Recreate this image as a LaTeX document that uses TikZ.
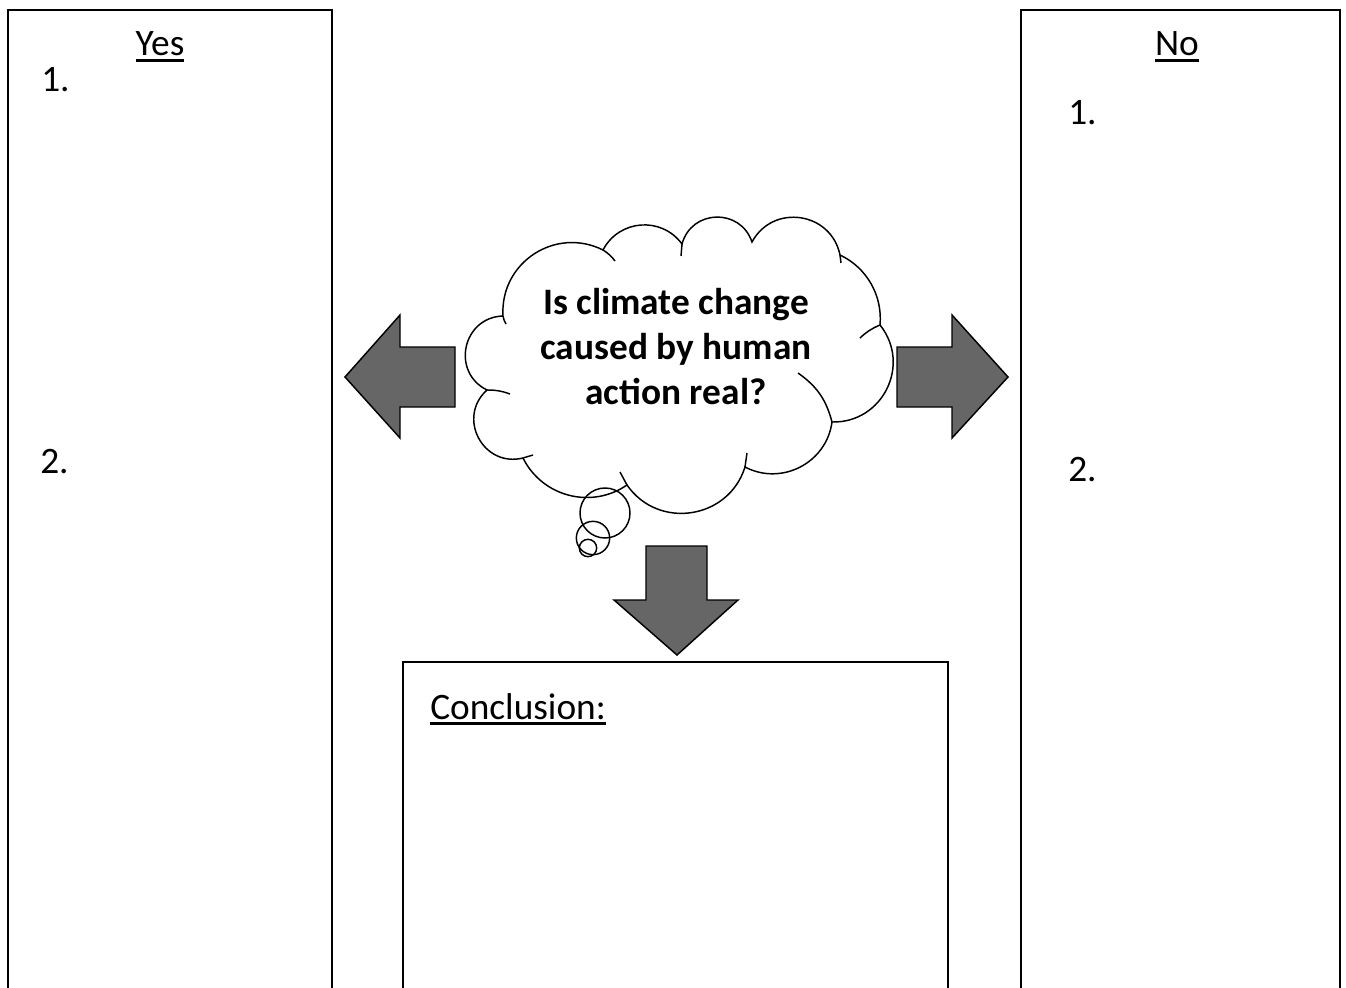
\documentclass[tikz,border=0pt]{standalone}
\usepackage{fontspec}
\setmainfont{Carlito}
\usepackage{tikz}
\usetikzlibrary{positioning}

\definecolor{arrowgray}{RGB}{102,102,102}

\newsavebox{\ulbox}
\newcommand{\ulword}[1]{\sbox{\ulbox}{#1}\rlap{\rule[-4.2pt]{\wd\ulbox}{1.8pt}}\usebox{\ulbox}}

\tikzset{
  panel/.style={draw=black, line width=1.1pt},
  blockarrow/.style={draw=black, fill=arrowgray, line width=1.1pt, line join=miter},
  puff/.style={draw=black, line width=1.1pt},
  entry/.style={font=\fontsize{28}{34}\selectfont, inner sep=0pt},
  bubble/.style={circle, draw=black, line width=1.1pt, inner sep=0pt},
}

\begin{document}
\begin{tikzpicture}[x=0.75pt, y=-0.75pt]
  \useasboundingbox[fill=white] (0,0) rectangle (1346,988);
  \clip (0,0) rectangle (1346,988);

  % panels
  \draw[panel] (8,10) rectangle (332,1000);
  \draw[panel] (1021,10) rectangle (1340,1000);
  \draw[panel] (403,662) rectangle (948,1000);

  \node[entry, anchor=base] (yes) at (160,56) {\ulword{Yes}};
  \node[entry, anchor=base west] (yes1) at (41,92) {1.};
  \node[entry, anchor=base west] (yes2) at (40,473) {2.};

  \node[entry, anchor=base] (no) at (1177,56) {\ulword{No}};
  \node[entry, anchor=base west] (no1) at (1068,125) {1.};
  \node[entry, anchor=base west] (no2) at (1068,481) {2.};

  \node[entry, anchor=base west] (concl) at (430,719) {\ulword{Conclusion:}};

  % cloud
  \coordinate (c1) at (503,316);
  \coordinate (c2) at (603,250);
  \coordinate (c3) at (682,244);
  \coordinate (c4) at (752,242);
  \coordinate (c5) at (840,255);
  \coordinate (c6) at (880,325);
  \coordinate (c7) at (832,422);
  \coordinate (c8) at (745,467);
  \coordinate (c9) at (627,485);
  \coordinate (c10) at (523,458);
  \coordinate (c11) at (487,390);
  \draw[puff] (c1) to[bend left=60, looseness=1.14] (c2)
    to[bend left=58, looseness=1.12] (c3)
    to[bend left=73, looseness=1.32] (c4)
    to[bend left=70, looseness=1.27] (c5)
    to[bend left=35, looseness=0.94] (c6)
    to[bend left=65, looseness=1.2] (c7)
    to[bend left=55, looseness=1.08] (c8)
    to[bend left=64, looseness=1.18] (c9)
    to[bend left=49, looseness=1.03] (c10)
    to[bend left=76, looseness=1.37] (c11)
    to[bend left=76, looseness=1.37] (c1);
  % inner ends of the puffs
  \draw[puff] (c1) to[bend right=10] (506,324);
  \draw[puff] (c2) to[bend left=10] (615,261);
  \draw[puff] (c3) -- (681,256);
  \draw[puff] (c5) -- (841,263);
  \draw[puff] (c6) to[bend right=10] (860,338);
  \draw[puff] (c7) to[bend right=20] (798,373);
  \draw[puff] (c8) -- (747,453);
  \draw[puff] (c9) -- (620,472);
  \draw[puff] (c10) -- (533,455);
  \draw[puff] (c11) to[bend left=10] (510,394);

  \node[font=\fontsize{28}{33.75}\selectfont\bfseries, align=center, inner sep=0pt]
    (question) at (676,347) {Is climate change\\caused by human\\action real?};

  \node[bubble, minimum size=37.5pt] (b1) at (605,513) {};
  \node[bubble, minimum size=25pt] (b2) at (593,538) {};
  \node[bubble, minimum size=13pt] (b3) at (588,548) {};

  % block arrows
  \draw[blockarrow] (455,347) -- (400,347) -- (400,315) -- (345,377)
    -- (400,438) -- (400,407) -- (455,407) -- cycle;
  \draw[blockarrow] (897,347) -- (952,347) -- (952,315) -- (1008,377)
    -- (952,438) -- (952,407) -- (897,407) -- cycle;
  \draw[blockarrow] (646,546) -- (707,546) -- (707,600) -- (738,600)
    -- (677,655) -- (614,600) -- (646,600) -- cycle;
\end{tikzpicture}
\end{document}
